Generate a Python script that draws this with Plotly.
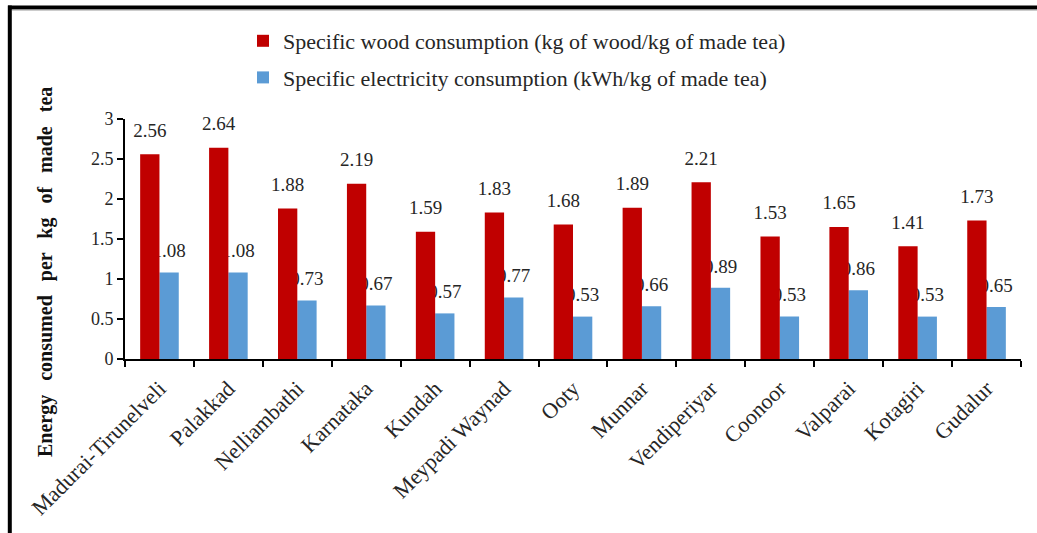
import numpy as np
import plotly.graph_objects as go

# Tea-growing regions and their specific energy use per kg of made tea
regions = ["Madurai-Tirunelveli", "Palakkad", "Nelliambathi", "Karnataka", "Kundah",
           "Meypadi Waynad", "Ooty", "Munnar", "Vendiperiyar", "Coonoor", "Valparai",
           "Kotagiri", "Gudalur"]
wood_use = [2.56, 2.64, 1.88, 2.19, 1.59, 1.83, 1.68, 1.89, 2.21, 1.53, 1.65, 1.41, 1.73]
electricity_use = [1.08, 1.08, 0.73, 0.67, 0.57, 0.77, 0.53, 0.66, 0.89, 0.53, 0.86, 0.53, 0.65]
y_ticks = [0, 0.5, 1, 1.5, 2, 2.5, 3]

wood_name = "Specific wood consumption (kg of wood/kg of made tea)"
elec_name = "Specific electricity consumption (kWh/kg of made tea)"
y_title = "Energy consumed per kg of made tea"

# ---- geometry -------------------------------------------------------------
W, H = 1037, 533
ML, MR, MT, MB = 125, 16, 119, 174
PW, PH = W - ML - MR, H - MT - MB


def px_x(px):
    return (px - ML) / PW


def px_y(py):
    return (H - MB - py) / PH


SERIF = "Liberation Serif"
RED = "#C00000"
BLUE = "#5B9BD5"
TXT = "#262626"
BAR_W = 0.28

idx = np.arange(len(regions))
x_range = [-0.5, len(regions) - 0.5]

fig = go.Figure()

# electricity bars + labels on the base axes (drawn first)
fig.add_trace(go.Bar(
    x=idx, y=electricity_use, width=BAR_W, offset=0,
    marker=dict(color=BLUE, line=dict(width=0)),
    name=elec_name, legendgroup="elec", legendrank=2,
    xaxis="x", yaxis="y",
))
fig.add_trace(go.Scatter(
    x=idx + BAR_W / 2, y=electricity_use, mode="markers+text",
    text=[f"{v:.2f}" for v in electricity_use], textposition="top center",
    textfont=dict(family=SERIF, size=19, color=TXT),
    marker=dict(size=15, opacity=0), cliponaxis=False,
    showlegend=False, hoverinfo="skip", xaxis="x", yaxis="y",
))

# wood bars + labels on an overlaid axis pair so they sit in front
fig.add_trace(go.Bar(
    x=idx, y=wood_use, width=BAR_W, offset=-BAR_W,
    marker=dict(color=RED, line=dict(width=0)),
    name=wood_name, legendgroup="wood", legendrank=1,
    xaxis="x2", yaxis="y2",
))
fig.add_trace(go.Scatter(
    x=idx - BAR_W / 2, y=wood_use, mode="markers+text",
    text=[f"{v:.2f}" for v in wood_use], textposition="top center",
    textfont=dict(family=SERIF, size=19, color=TXT),
    marker=dict(size=19, opacity=0), cliponaxis=False,
    showlegend=False, hoverinfo="skip", xaxis="x2", yaxis="y2",
))

boundaries = list(idx - 0.5) + [idx[-1] + 0.5]

fig.update_layout(
    width=W, height=H,
    margin=dict(l=ML, r=MR, t=MT, b=MB, pad=0),
    paper_bgcolor="white", plot_bgcolor="white",
    barmode="overlay",
    font=dict(family=SERIF, color=TXT),
    xaxis=dict(
        range=x_range, tickmode="array", tickvals=idx, ticktext=regions,
        tickangle=-45, ticks="outside", ticklen=6, tickcolor="rgba(0,0,0,0)",
        tickfont=dict(family=SERIF, size=22, color=TXT),
        showline=True, linecolor="black", linewidth=2,
        showgrid=False, zeroline=False,
        minor=dict(tickmode="array", tickvals=boundaries, ticks="outside",
                   ticklen=6, tickwidth=2, tickcolor="black", showgrid=False),
    ),
    yaxis=dict(
        range=[0, 3], tickmode="array", tickvals=y_ticks,
        ticks="outside", ticklen=6, tickwidth=2, tickcolor="black",
        tickfont=dict(family=SERIF, size=18, color=TXT),
        ticksuffix="\u00a0\u00a0",
        showline=True, linecolor="black", linewidth=2,
        showgrid=False, zeroline=False,
    ),
    xaxis2=dict(range=x_range, overlaying="x", anchor="y2", visible=False),
    yaxis2=dict(range=[0, 3], overlaying="y", anchor="x2", visible=False),
    legend=dict(
        x=px_x(243), y=px_y(20), xanchor="left", yanchor="top",
        font=dict(family=SERIF, size=22, color=TXT),
        bgcolor="rgba(0,0,0,0)", tracegroupgap=5,
    ),
    showlegend=True,
    annotations=[dict(
        text=f"<span style='word-spacing:9px'><b>{y_title}</b></span>",
        textangle=-90,
        xref="paper", yref="paper", x=px_x(45), y=px_y(272),
        xanchor="center", yanchor="middle", showarrow=False,
        font=dict(family=SERIF, size=20, color="#111111"),
    )],
    shapes=[
        # outer frame: heavy rule along the top and the left edge
        dict(type="line", xref="paper", yref="paper",
             x0=px_x(8), x1=px_x(W + 2), y0=px_y(7.5), y1=px_y(7.5),
             line=dict(color="black", width=4)),
        dict(type="line", xref="paper", yref="paper",
             x0=px_x(12), x1=px_x(W + 2), y0=px_y(10), y1=px_y(10),
             line=dict(color="#9a9a9a", width=1)),
        dict(type="line", xref="paper", yref="paper",
             x0=px_x(9.8), x1=px_x(9.8), y0=px_y(5.5), y1=px_y(H + 2),
             line=dict(color="black", width=4)),
    ],
)

fig.write_html("out.html")
